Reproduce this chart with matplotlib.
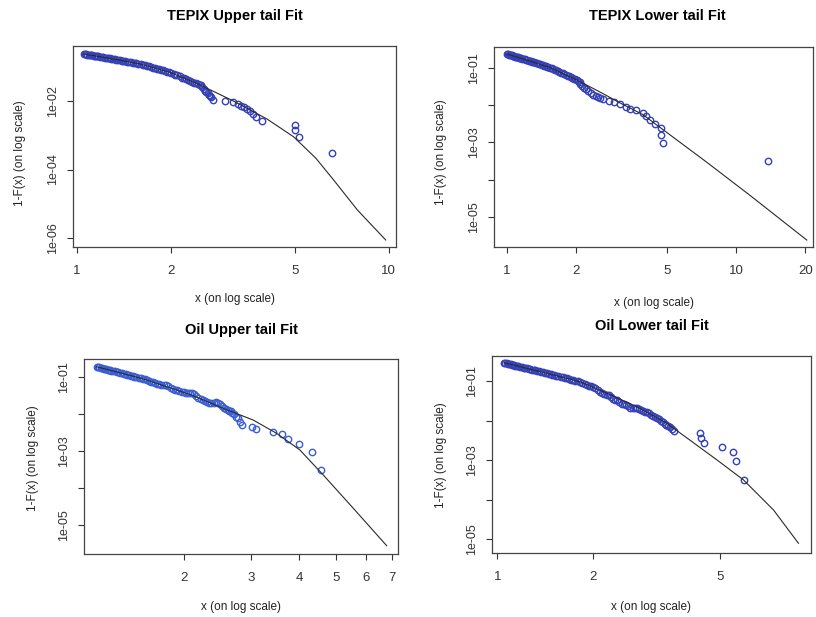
import matplotlib
matplotlib.use("Agg")
import matplotlib.pyplot as plt
from matplotlib.ticker import NullLocator

plt.rcParams['font.family'] = ['Liberation Sans', 'DejaVu Sans']

# --- TEPIX upper tail: empirical survival points and fitted tail ---
tepix_up_x = [1.05, 1.07, 1.09, 1.11, 1.13, 1.15, 1.17, 1.20, 1.23, 1.26, 1.29, 1.32, 1.35,
              1.39, 1.43, 1.47, 1.51, 1.55, 1.60, 1.65, 1.70, 1.75, 1.80, 1.86, 1.92, 1.98,
              2.04, 2.10, 2.17, 2.24, 2.31, 2.38, 2.45, 2.50, 2.55, 2.60, 2.65, 2.70, 2.73,
              2.99, 3.17, 3.29, 3.37, 3.44, 3.52, 3.60, 3.68, 3.76, 3.93, 5.02, 5.02, 5.14, 6.56]
tepix_up_y = [0.251, 0.243, 0.236, 0.230, 0.223, 0.217, 0.211, 0.203, 0.195, 0.188, 0.181, 0.174, 0.167,
              0.160, 0.154, 0.145, 0.139, 0.133, 0.126, 0.116, 0.107, 0.0995, 0.0925, 0.0860, 0.0782, 0.0723,
              0.0649, 0.0581, 0.0505, 0.0454, 0.0404, 0.0361, 0.0323, 0.0298, 0.0233, 0.0190, 0.0155, 0.0132, 0.0111,
              0.0104, 0.0094, 0.0082, 0.0074, 0.0067, 0.0060, 0.0053, 0.0044, 0.0036, 0.0026, 0.0020, 0.00145, 0.00092, 0.00031]
# more observations inside the dense band
tepix_up_band_x = [1.06, 1.08, 1.10, 1.12, 1.14, 1.16, 1.185, 1.215, 1.245, 1.275, 1.305, 1.335, 1.37,
                   1.41, 1.45, 1.49, 1.53, 1.575, 1.625, 1.675, 1.725, 1.775, 1.83, 1.89, 1.95, 2.01,
                   2.07, 2.135, 2.205, 2.275, 2.345, 2.415, 2.475, 2.525, 2.575, 2.625, 2.675]
tepix_up_band_y = [0.247, 0.239, 0.233, 0.226, 0.220, 0.214, 0.207, 0.199, 0.191, 0.184, 0.178, 0.171, 0.164,
                   0.156, 0.149, 0.142, 0.136, 0.129, 0.121, 0.112, 0.103, 0.0958, 0.0890, 0.0820, 0.0752, 0.0688,
                   0.0615, 0.0545, 0.0478, 0.0428, 0.0381, 0.0342, 0.0310, 0.0262, 0.0210, 0.0172, 0.0143]
tepix_up_fit_x = [1.053, 1.277, 1.594, 1.991, 2.486, 3.174, 4.07, 4.95, 5.83, 6.66, 7.93, 9.78]
tepix_up_fit_y = [0.249, 0.184, 0.127, 0.0713, 0.0305, 0.01035, 0.00305, 9.2e-4, 2.18e-4, 4.9e-5, 6.5e-6, 8.5e-7]

# --- TEPIX lower tail ---
tepix_lo_x = [1.00, 1.02, 1.04, 1.06, 1.08, 1.10, 1.12, 1.14, 1.17, 1.20, 1.23, 1.26, 1.29, 1.32,
              1.36, 1.40, 1.44, 1.48, 1.52, 1.57, 1.62, 1.67, 1.72, 1.78, 1.84, 1.90, 1.96, 2.02, 2.08,
              2.09, 2.17, 2.26, 2.38, 2.50, 2.63, 2.79, 2.93, 3.12, 3.31, 3.44, 3.66, 3.92, 4.04,
              4.21, 4.42, 4.70, 4.70, 4.80, 13.8]
tepix_lo_y = [0.243, 0.234, 0.226, 0.218, 0.210, 0.203, 0.197, 0.191, 0.182, 0.173, 0.166, 0.158, 0.151, 0.144,
              0.136, 0.128, 0.121, 0.114, 0.108, 0.100, 0.0914, 0.0837, 0.0769, 0.0697, 0.0632, 0.0575, 0.0527, 0.0482, 0.0440,
              0.0380, 0.0300, 0.0250, 0.0191, 0.0168, 0.0149, 0.0132, 0.0124, 0.0112, 0.00905, 0.0080, 0.0075, 0.00624, 0.00502,
              0.00404, 0.00315, 0.00246, 0.00159, 0.00099, 0.00032]
tepix_lo_band_x = [1.01, 1.03, 1.05, 1.07, 1.09, 1.11, 1.13, 1.155, 1.185, 1.215, 1.245, 1.275, 1.305, 1.34,
                   1.38, 1.42, 1.46, 1.50, 1.545, 1.595, 1.645, 1.695, 1.75, 1.81, 1.87, 1.93, 1.99, 2.05,
                   2.12, 2.21, 2.32, 2.44, 2.56]
tepix_lo_band_y = [0.239, 0.230, 0.222, 0.214, 0.206, 0.200, 0.194, 0.186, 0.178, 0.169, 0.162, 0.155, 0.148, 0.140,
                   0.132, 0.125, 0.117, 0.111, 0.104, 0.0957, 0.0875, 0.0803, 0.0733, 0.0664, 0.0603, 0.0551, 0.0504, 0.0461,
                   0.0340, 0.0275, 0.0210, 0.0180, 0.0158]
tepix_lo_fit_x = [1.0, 1.26, 1.54, 2.02, 2.55, 3.12, 3.92, 4.81, 7.43, 11.5, 20.3]
tepix_lo_fit_y = [0.243, 0.157, 0.105, 0.0484, 0.0229, 0.0116, 0.00562, 0.00219, 2.95e-4, 3.72e-5, 2.34e-6]

# --- Oil upper tail ---
oil_up_x = [1.18, 1.20, 1.22, 1.24, 1.26, 1.28, 1.30, 1.33, 1.36, 1.39, 1.42, 1.45, 1.48,
            1.52, 1.56, 1.60, 1.64, 1.68, 1.72, 1.77, 1.82, 1.87, 1.92, 1.97, 2.02,
            2.07, 2.12, 2.18, 2.24, 2.30, 2.36, 2.42, 2.48, 2.54, 2.60, 2.65, 2.70,
            2.73, 2.77, 2.80, 2.83, 3.006, 3.085, 3.424, 3.602, 3.736, 4.0, 4.335, 4.568]
oil_up_y = [0.185, 0.177, 0.169, 0.162, 0.155, 0.149, 0.143, 0.138, 0.127, 0.120, 0.113, 0.107, 0.101,
            0.0946, 0.0879, 0.0805, 0.0740, 0.0681, 0.0628, 0.0610, 0.0555, 0.0472, 0.0431, 0.0394, 0.0362,
            0.0374, 0.0348, 0.0269, 0.0239, 0.0214, 0.0191, 0.0207, 0.0182, 0.0140, 0.0127, 0.0118, 0.0098,
            0.0085, 0.0076, 0.0062, 0.0050, 0.00453, 0.00385, 0.00333, 0.00283, 0.00212, 0.00155, 0.00096, 0.00031]
oil_up_band_x = [1.19, 1.21, 1.23, 1.25, 1.27, 1.29, 1.315, 1.345, 1.375, 1.405, 1.435, 1.465, 1.50,
                 1.54, 1.58, 1.62, 1.66, 1.70, 1.745, 1.795, 1.845, 1.895, 1.945, 1.995, 2.045,
                 2.095, 2.15, 2.21, 2.27, 2.33, 2.39, 2.45, 2.51, 2.57, 2.625, 2.675]
oil_up_band_y = [0.181, 0.173, 0.165, 0.158, 0.152, 0.146, 0.140, 0.132, 0.124, 0.116, 0.110, 0.104, 0.0978,
                 0.0912, 0.0842, 0.0772, 0.0710, 0.0655, 0.0615, 0.0585, 0.0510, 0.0450, 0.0412, 0.0378, 0.0370,
                 0.0362, 0.0305, 0.0254, 0.0226, 0.0202, 0.0200, 0.0195, 0.0160, 0.0133, 0.0122, 0.0108]
oil_up_fit_x = [1.178, 1.546, 2.092, 2.557, 3.034, 3.496, 4.025, 4.634, 5.555, 6.796]
oil_up_fit_y = [0.186, 0.0906, 0.0322, 0.01355, 0.00686, 0.00301, 0.00107, 2.28e-4, 2.9e-5, 2.86e-6]

# --- Oil lower tail ---
oil_lo_x = [1.05, 1.07, 1.09, 1.11, 1.13, 1.15, 1.18, 1.21, 1.24, 1.27, 1.30, 1.33, 1.37, 1.41, 1.45,
            1.49, 1.53, 1.58, 1.63, 1.68, 1.73, 1.79, 1.85, 1.91, 1.97, 2.03, 2.10, 2.17, 2.24, 2.31,
            2.38, 2.46, 2.54, 2.62, 2.70, 2.78, 2.86, 2.95, 3.04, 3.13, 3.22, 3.31, 3.40, 3.50, 3.60,
            4.32, 4.37, 4.45, 5.07, 5.51, 5.63, 5.97]
oil_lo_y = [0.296, 0.285, 0.275, 0.265, 0.255, 0.247, 0.234, 0.222, 0.212, 0.202, 0.193, 0.184, 0.173, 0.164, 0.155,
            0.147, 0.139, 0.130, 0.122, 0.115, 0.108, 0.101, 0.0923, 0.0826, 0.0741, 0.0667, 0.0541, 0.0470, 0.0441, 0.0352,
            0.0330, 0.0268, 0.0250, 0.0214, 0.0215, 0.0196, 0.0177, 0.0165, 0.0144, 0.0127, 0.0112, 0.00923, 0.00782, 0.00684, 0.00566,
            0.00483, 0.00372, 0.00279, 0.00221, 0.00165, 0.00098, 0.000317]
oil_lo_band_x = [1.06, 1.08, 1.10, 1.12, 1.14, 1.165, 1.195, 1.225, 1.255, 1.285, 1.315, 1.35, 1.39, 1.43,
                 1.47, 1.51, 1.555, 1.605, 1.655, 1.705, 1.76, 1.82, 1.88, 1.94, 2.00, 2.065, 2.135, 2.205,
                 2.275, 2.345, 2.42, 2.50, 2.58, 2.66, 2.74, 2.82, 2.905, 2.995, 3.085, 3.175, 3.265, 3.355,
                 3.45, 3.55]
oil_lo_band_y = [0.290, 0.280, 0.270, 0.260, 0.251, 0.240, 0.228, 0.217, 0.207, 0.197, 0.188, 0.178, 0.168, 0.159,
                 0.151, 0.143, 0.134, 0.126, 0.118, 0.111, 0.104, 0.0965, 0.0870, 0.0780, 0.0700, 0.0600, 0.0505, 0.0455,
                 0.0395, 0.0340, 0.0295, 0.0260, 0.0230, 0.0214, 0.0205, 0.0186, 0.0171, 0.0154, 0.0135, 0.0120, 0.0101, 0.0085,
                 0.0073, 0.0062]
oil_lo_fit_x = [1.05, 1.43, 1.82, 2.21, 2.74, 3.41, 4.90, 5.94, 7.38, 8.84]
oil_lo_fit_y = [0.296, 0.160, 0.0977, 0.0497, 0.0228, 0.00865, 0.00102, 3.17e-4, 5.5e-5, 7.9e-6]

W, H = 816, 617
fig = plt.figure(figsize=(W / 100, H / 100), dpi=100)


def ftxt(px, py, s, **kw):
    fig.text(px / W, 1 - py / H, s, ha='center', va='center', **kw)


def panel(box, x, y, fx, fy, xlim, ylim, xticks, yticks, ylabels, title, t_xy, xl_xy, yl_xy, col):
    l, t, r, b = box
    ax = fig.add_axes([l / W, 1 - b / H, (r - l) / W, (b - t) / H])
    ax.set_xscale('log')
    ax.set_yscale('log')
    ax.plot(x, y, 'o', mfc='none', mec=col, ms=4.6, mew=1.0, zorder=2)
    ax.plot(fx, fy, color='#2a2a2a', lw=0.8, zorder=3)
    ax.set_xlim(xlim)
    ax.set_ylim(ylim)
    ax.xaxis.set_minor_locator(NullLocator())
    ax.yaxis.set_minor_locator(NullLocator())
    ax.set_xticks(xticks)
    ax.set_xticklabels([str(v) for v in xticks], fontsize=9.5)
    ax.set_yticks(yticks)
    ax.set_yticklabels(ylabels, fontsize=9, rotation=90, va='center')
    ax.tick_params(axis='x', length=4, width=0.8, pad=9, colors='#333333')
    ax.tick_params(axis='y', length=4, width=0.8, pad=6, colors='#333333')
    for sp in ax.spines.values():
        sp.set_color('#444444')
        sp.set_linewidth(0.9)
    ftxt(*t_xy, title, fontsize=10.5, fontweight='bold')
    ftxt(*xl_xy, 'x (on log scale)', fontsize=8.5, color='#222222')
    ftxt(*yl_xy, '1-F(x) (on log scale)', fontsize=8.5, color='#222222', rotation=90)
    return ax


dec5 = [1e-1, 1e-2, 1e-3, 1e-4, 1e-5]
lab5 = ['1e-01', '', '1e-03', '', '1e-05']

panel((72.7, 45.7, 396, 246.7), tepix_up_x + tepix_up_band_x, tepix_up_y + tepix_up_band_y,
      tepix_up_fit_x, tepix_up_fit_y,
      (0.969, 10.55), (5.4e-7, 0.436), [1, 2, 5, 10], [1e-2, 1e-4, 1e-6], ['1e-02', '1e-04', '1e-06'],
      'TEPIX Upper tail Fit', (235, 16), (235, 299), (20, 153), '#3441b8')

panel((494, 47.3, 813, 246.7), tepix_lo_x + tepix_lo_band_x, tepix_lo_y + tepix_lo_band_y,
      tepix_lo_fit_x, tepix_lo_fit_y,
      (0.88, 21.6), (1.55e-6, 0.368), [1, 2, 5, 10, 20], dec5, lab5,
      'TEPIX Lower tail Fit', (657, 16), (654, 303), (441, 152), '#3441b8')

panel((84.3, 359.3, 398.3, 554), oil_up_x + oil_up_band_x, oil_up_y + oil_up_band_y,
      oil_up_fit_x, oil_up_fit_y,
      (1.095, 7.29), (1.71e-6, 0.294), [2, 3, 4, 5, 6, 7], dec5, lab5,
      'Oil Upper tail Fit', (241, 330), (241, 607), (33, 458), '#3a5ed6')

panel((492.3, 355.7, 811, 553.3), oil_lo_x + oil_lo_band_x, oil_lo_y + oil_lo_band_y,
      oil_lo_fit_x, oil_lo_fit_y,
      (0.964, 9.68), (4.4e-6, 0.445), [1, 2, 5], dec5, lab5,
      'Oil Lower tail Fit', (652, 326), (651, 607), (441, 455), '#3441b8')

fig.savefig('out.png', dpi=100)
